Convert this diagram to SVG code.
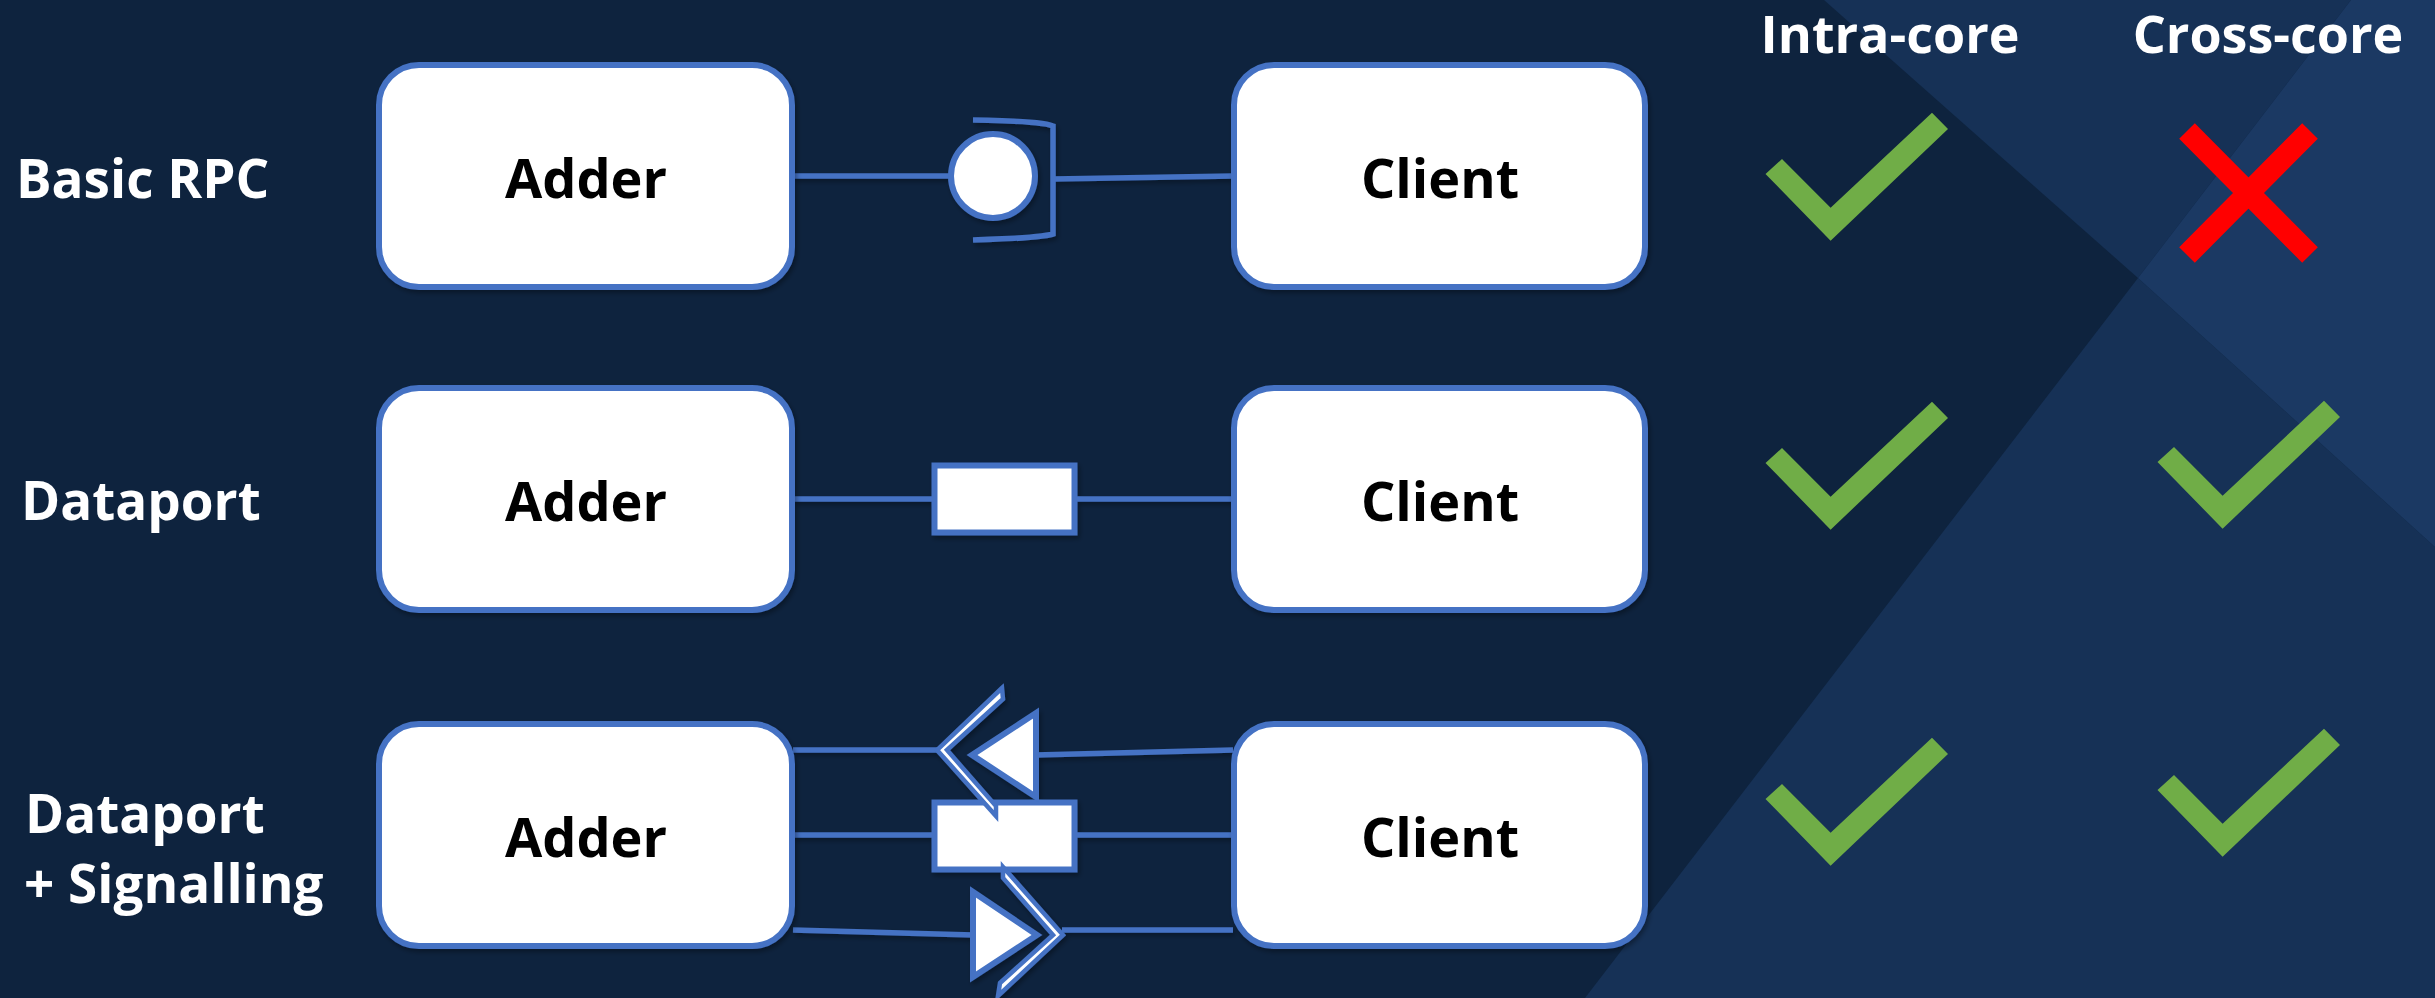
<svg xmlns="http://www.w3.org/2000/svg" width="2435" height="998" viewBox="0 0 2435 998">
  <style>
    .box { fill: #ffffff; stroke: #4472c4; stroke-width: 6; }
    .wire { fill: none; stroke: #4472c4; stroke-width: 5.5; }
    .part { fill: #ffffff; stroke: #4472c4; stroke-width: 6; stroke-linejoin: miter; }
    .thin { fill: #ffffff; stroke: #4472c4; stroke-width: 4.5; stroke-linejoin: miter; }
    .name { font-family: "Open Sans", "Liberation Sans", sans-serif; font-weight: 700; font-size: 54px; fill: #000000; text-anchor: middle; }
    .label { font-family: "Open Sans", "Liberation Sans", sans-serif; font-weight: 700; font-size: 53px; fill: #ffffff; }
    .head { font-family: "Open Sans", "Liberation Sans", sans-serif; font-weight: 700; font-size: 52px; fill: #ffffff; text-anchor: middle; }
    .ok { fill: #70ad47; }
    .no { stroke: #ff0000; stroke-width: 22; stroke-linecap: butt; }
  </style>
  <defs>
    <filter id="shadow" x="-10%" y="-10%" width="130%" height="130%">
      <feDropShadow dx="2" dy="3" stdDeviation="2.5" flood-color="#000000" flood-opacity="0.35"/>
    </filter>
    <polygon id="check" points="0,0 48.6,48.7 150,-46.3 166,-30 48.6,81.7 -16.5,15"/>
  </defs>

  <!-- background panels -->
  <rect x="0" y="0" width="2435" height="998" fill="#0e233e"/>
  <polygon points="1824,0 2351,0 2138,278" fill="#163156"/>
  <polygon points="2138,278 2435,547 2435,998 1585,998" fill="#163156"/>
  <polygon points="2351,0 2435,0 2435,547 2138,278" fill="#1b3963"/>

  <!-- row labels -->
  <g id="labels">
    <text class="label" x="16" y="198">Basic RPC</text>
    <text class="label" x="21" y="520">Dataport</text>
    <text class="label" x="25" y="833">Dataport</text>
    <text class="label" x="24" y="903">+ Signalling</text>
  </g>

  <!-- column headings -->
  <g id="headings">
    <text class="head" x="1890" y="53">Intra-core</text>
    <text class="head" x="2268" y="53">Cross-core</text>
  </g>

  <!-- connectors -->
  <g id="connectors" filter="url(#shadow)">
    <!-- basic RPC -->
    <line class="wire" x1="793" y1="176" x2="952" y2="176"/>
    <line class="wire" x1="1054" y1="179" x2="1233" y2="176"/>
    <path class="wire" d="M973,120 Q1040,121 1053,126 L1053,234 Q1040,238 973,240"/>
    <circle class="part" cx="993" cy="176" r="42"/>
    <!-- dataport -->
    <line class="wire" x1="793" y1="499" x2="935" y2="499"/>
    <line class="wire" x1="1075" y1="499" x2="1233" y2="499"/>
    <rect class="part" x="934.5" y="465.5" width="140" height="67"/>
    <!-- dataport + signalling -->
    <line class="wire" x1="793" y1="750" x2="938" y2="750"/>
    <line class="wire" x1="1036" y1="755" x2="1233" y2="750"/>
    <line class="wire" x1="793" y1="835" x2="935" y2="835"/>
    <line class="wire" x1="1075" y1="835" x2="1233" y2="835"/>
    <line class="wire" x1="793" y1="930" x2="973" y2="935"/>
    <line class="wire" x1="1062" y1="930" x2="1233" y2="930"/>
    <rect class="part" x="934.5" y="802.5" width="140" height="67"/>
    <polygon class="part" points="972,755 1036,713 1036,797"/>
    <polygon class="thin" points="1002,688 937,750 996,816 996,806 947,750 1003,699"/>
    <polygon class="part" points="973,892 973,977 1037,935"/>
    <polygon class="thin" points="1003,867 1063,935 998,996 1000,983 1053,935 1003,878"/>
  </g>

  <!-- component boxes -->
  <g id="adder-rpc" filter="url(#shadow)">
    <rect class="box" x="379" y="65" width="413" height="222" rx="40"/>
    <text class="name" x="586" y="198">Adder</text>
  </g>
  <g id="client-rpc" filter="url(#shadow)">
    <rect class="box" x="1234" y="65" width="411" height="222" rx="40"/>
    <text class="name" x="1440" y="198">Client</text>
  </g>
  <g id="adder-dataport" filter="url(#shadow)">
    <rect class="box" x="379" y="388" width="413" height="222" rx="40"/>
    <text class="name" x="586" y="521">Adder</text>
  </g>
  <g id="client-dataport" filter="url(#shadow)">
    <rect class="box" x="1234" y="388" width="411" height="222" rx="40"/>
    <text class="name" x="1440" y="521">Client</text>
  </g>
  <g id="adder-signal" filter="url(#shadow)">
    <rect class="box" x="379" y="724" width="413" height="222" rx="40"/>
    <text class="name" x="586" y="857">Adder</text>
  </g>
  <g id="client-signal" filter="url(#shadow)">
    <rect class="box" x="1234" y="724" width="411" height="222" rx="40"/>
    <text class="name" x="1440" y="857">Client</text>
  </g>

  <!-- support marks -->
  <g id="marks">
    <use href="#check" class="ok" transform="translate(1782,159)"/>
    <use href="#check" class="ok" transform="translate(1782,448)"/>
    <use href="#check" class="ok" transform="translate(1782,784)"/>
    <use href="#check" class="ok" transform="translate(2174,447)"/>
    <use href="#check" class="ok" transform="translate(2174,775)"/>
    <line class="no" x1="2187" y1="131" x2="2310" y2="255"/>
    <line class="no" x1="2310" y1="131" x2="2187" y2="255"/>
  </g>
</svg>
